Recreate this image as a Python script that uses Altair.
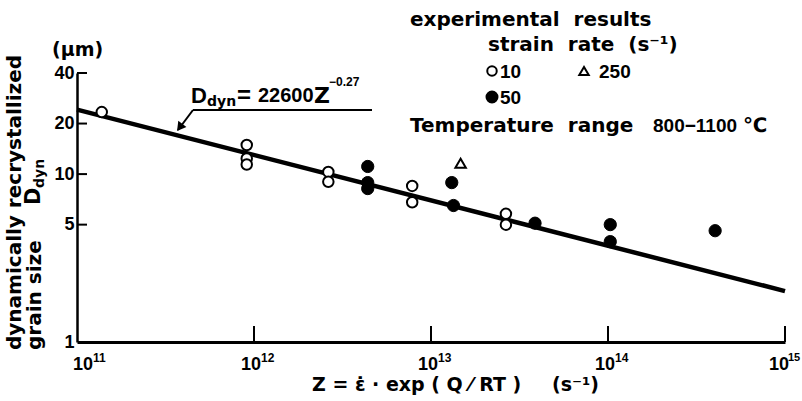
import altair as alt
import pandas as pd

# ---- data ----
# strain rate 10 s^-1 (open circles)
z_10 = [1.38e11, 9.1e11, 9.1e11, 9.1e11, 2.63e12, 2.63e12, 7.83e12, 7.83e12, 2.65e13, 2.65e13]
d_10 = [23.4, 14.9, 12.4, 11.4, 10.3, 9.0, 8.5, 6.8, 5.8, 5.0]
# strain rate 50 s^-1 (filled circles)
z_50 = [4.39e12, 4.39e12, 4.39e12, 1.31e13, 1.34e13, 3.87e13, 1.03e14, 1.03e14, 4.03e14]
d_50 = [11.1, 8.9, 8.2, 8.9, 6.5, 5.1, 5.0, 3.96, 4.6]
# strain rate 250 s^-1 (triangle)
z_250 = [1.47e13]
d_250 = [11.6]
# fitted line D = 22600 Z^-0.27 (end points)
line_z = [1e11, 1e15]
line_d = [24.2, 2.01]
# ticks
x_tick_vals = [1e11, 1e12, 1e13, 1e14, 1e15]
x_tick_exp = ["11", "12", "13", "14", "15"]
y_tick_vals = [1, 5, 10, 20, 40]

W, H = 708, 269
BOLD = "DejaVu Sans"
NUM = "Liberation Sans"
SP = "\u00a0"

xs = alt.Scale(type="log", domain=[1e11, 1e15], nice=False)
ys = alt.Scale(type="log", domain=[1, 40], nice=False)

pts10 = pd.DataFrame({"z": z_10, "d": d_10})
pts50 = pd.DataFrame({"z": z_50, "d": d_50})
pts250 = pd.DataFrame({"z": z_250, "d": d_250})
fit = pd.DataFrame({"z": line_z, "d": line_d})
xt = pd.DataFrame({"v": x_tick_vals, "e": x_tick_exp})
yt = pd.DataFrame({"v": y_tick_vals})

base_axes = alt.Chart(fit).mark_line(strokeWidth=4.5, color="black").encode(
    x=alt.X("z:Q", scale=xs,
            axis=alt.Axis(labels=False, ticks=False, grid=False, title=None,
                          domainWidth=3, domainColor="black")),
    y=alt.Y("d:Q", scale=ys,
            axis=alt.Axis(values=y_tick_vals, format="~g", ticks=False, grid=False,
                          title=None, domainWidth=2.5, domainColor="black",
                          labelFont=NUM, labelFontSize=18, labelFontWeight="bold",
                          labelColor="black", labelPadding=3, labelOverlap=False,
                          labelBound=False, labelFlush=False)),
)

open_pts = alt.Chart(pts10).mark_point(shape="circle", filled=True, fill="white",
                                       stroke="black", strokeWidth=2, size=110,
                                       opacity=1).encode(
    x=alt.X("z:Q", scale=xs), y=alt.Y("d:Q", scale=ys))
full_pts = alt.Chart(pts50).mark_point(shape="circle", filled=True, fill="black",
                                       stroke="black", strokeWidth=1, size=150,
                                       opacity=1).encode(
    x=alt.X("z:Q", scale=xs), y=alt.Y("d:Q", scale=ys))
tri_pts = alt.Chart(pts250).mark_point(shape="triangle-up", filled=True, fill="white",
                                       stroke="black", strokeWidth=2, size=110,
                                       opacity=1).encode(
    x=alt.X("z:Q", scale=xs), y=alt.Y("d:Q", scale=ys))

# inward ticks
y_ticks = alt.Chart(yt).transform_filter("datum.v > 1").mark_rule(
    color="black", strokeWidth=2).encode(
    y=alt.Y("v:Q", scale=ys), x=alt.value(0), x2=alt.value(10))
x_ticks = alt.Chart(xt).transform_filter("datum.v > 1e11").mark_rule(
    color="black", strokeWidth=2).encode(
    x=alt.X("v:Q", scale=xs), y=alt.value(H), y2=alt.value(H - 16))


# x tick labels 10^n
def xlab(flt, dx10, dxe, esize=12):
    c = alt.Chart(xt).transform_filter(flt)
    a = c.mark_text(text="10", font=NUM, fontSize=18, fontWeight="bold",
                    align="center", baseline="middle", dx=dx10).encode(
        x=alt.X("v:Q", scale=xs), y=alt.value(H + 23))
    b = c.mark_text(font=NUM, fontSize=esize, fontWeight="bold",
                    align="left", baseline="middle", dx=dxe).encode(
        x=alt.X("v:Q", scale=xs), y=alt.value(H + 16), text="e:N")
    return [a, b]


xlabels = (xlab("datum.v < 2e11", 6, 16)
           + xlab("datum.v > 2e11 && datum.v < 2e14", -3, 7)
           + xlab("datum.v > 2e14", -6, 3, 11))

one = pd.DataFrame({"k": [0]})


def txt(s, x, y, size, font=BOLD, align="left", baseline="middle", angle=0, weight="bold"):
    return alt.Chart(one).mark_text(text=s, font=font, fontSize=size, fontWeight=weight,
                                    align=align, baseline=baseline, angle=angle,
                                    color="black").encode(
        x=alt.value(x), y=alt.value(y))


def rule(x1, y1, x2, y2, w=2):
    return alt.Chart(one).mark_rule(color="black", strokeWidth=w).encode(
        x=alt.value(x1), y=alt.value(y1), x2=alt.value(x2), y2=alt.value(y2))


OX, OY = 77, 73  # plot origin in page pixels

annotations = [
    # y-axis title (rotated)
    txt("dynamically" + SP + "recrystallized", 15 - OX, 350 - OY, 20, angle=270),
    txt("grain" + SP + "size", 35 - OX, 350 - OY, 20, angle=270),
    txt("D", 34 - OX, 205 - OY, 21, angle=270),
    txt("dyn", 40 - OX, 188 - OY, 14, angle=270),
    txt("(\u03bcm)", 52 - OX, 50 - OY, 19),
    # x-axis title
    txt("Z = \u03b5\u0307 \u00b7 exp ( Q \u2044 RT )", 312 - OX, 385 - OY, 19),
    txt("(s\u207b\u00b9)", 552 - OX, 385 - OY, 19),
    # legend
    txt("experimental" + SP + SP + "results", 410 - OX, 20 - OY, 20),
    txt("strain" + SP + SP + "rate" + SP + SP + "(s\u207b\u00b9)", 488 - OX, 45 - OY, 20),
    txt("10", 500 - OX, 72 - OY, 19, font=NUM),
    txt("250", 599 - OX, 72 - OY, 19, font=NUM),
    txt("50", 500 - OX, 98 - OY, 19, font=NUM),
    txt("Temperature" + SP + SP + "range", 410 - OX, 126 - OY, 20),
    txt("800\u22121100", 653 - OX, 126 - OY, 19, font=NUM),
    txt("\u2103", 743 - OX, 126 - OY, 20),
    # equation
    txt("D", 191 - OX, 96 - OY, 22, font=NUM),
    txt("dyn", 207 - OX, 102 - OY, 14),
    txt("=", 237 - OX, 96 - OY, 24, font=NUM),
    txt("22600", 258 - OX, 96 - OY, 20, font=NUM),
    txt("Z", 314 - OX, 96 - OY, 22),
    txt("\u22120.27", 329 - OX, 82 - OY, 12, font=NUM),
    rule(193 - OX, 110 - OY, 372 - OX, 110 - OY),
    rule(193 - OX, 110 - OY, 178 - OX, 130 - OY),
]

legend_sym = [
    alt.Chart(one).mark_point(shape="circle", filled=True, fill="white", stroke="black",
                              strokeWidth=2, size=90, opacity=1).encode(
        x=alt.value(492 - OX), y=alt.value(71 - OY)),
    alt.Chart(one).mark_point(shape="circle", filled=True, fill="black", stroke="black",
                              size=120, opacity=1).encode(
        x=alt.value(492 - OX), y=alt.value(97 - OY)),
    alt.Chart(one).mark_point(shape="triangle-up", filled=True, fill="white", stroke="black",
                              strokeWidth=2, size=90, opacity=1).encode(
        x=alt.value(584 - OX), y=alt.value(71 - OY)),
    alt.Chart(one).mark_point(shape="triangle-down", filled=True, fill="black", stroke="black",
                              size=45, opacity=1, angle=37).encode(
        x=alt.value(180 - OX), y=alt.value(127 - OY)),
]

chart = alt.layer(
    base_axes, y_ticks, x_ticks, open_pts, full_pts, tri_pts,
    *xlabels, *annotations, *legend_sym,
).properties(
    width=W, height=H,
    autosize=alt.AutoSizeParams(type="none"),
    padding={"left": OX, "top": OY, "right": 802 - OX - W, "bottom": 401 - OY - H},
    background="white",
).configure_view(stroke=None)

chart.save("out.html", embed_options={"renderer": "svg", "actions": False})
